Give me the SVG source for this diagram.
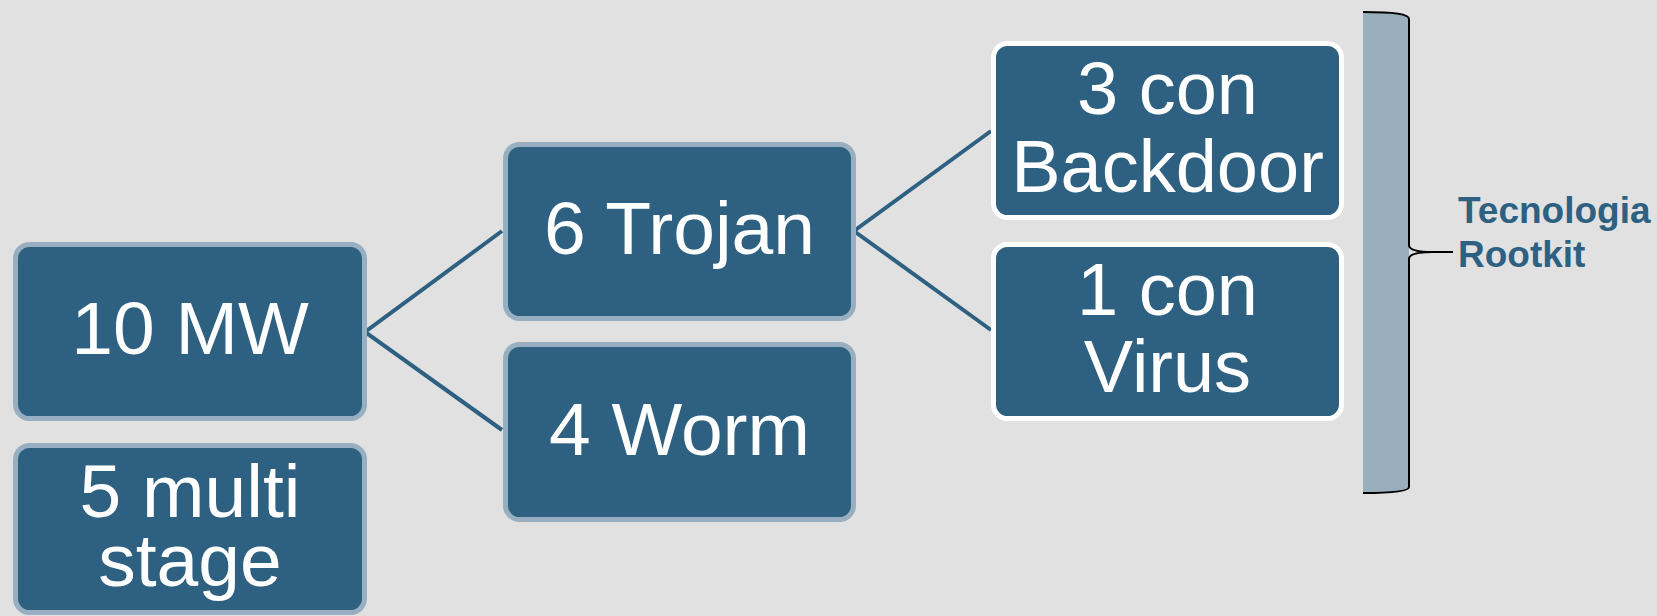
<svg xmlns="http://www.w3.org/2000/svg" width="1657" height="616" viewBox="0 0 1657 616">
  <style>
    .box { fill: #2E6181; stroke: #97AFC0; stroke-width: 5; }
    .box-w { fill: #2E6181; stroke: #FFFFFF; stroke-width: 5; }
    .lbl { font-family: "Liberation Sans", Arial, sans-serif; fill: #FFFFFF; text-anchor: middle; }
    .big { font-size: 75px; }
    .mid { font-size: 74px; }
    .link { stroke: #2E6181; stroke-width: 4; fill: none; }
    .note { font-family: "Liberation Sans", Arial, sans-serif; font-weight: bold; font-size: 37px; fill: #2E6181; }
  </style>
  <rect width="1657" height="616" fill="#E1E1E1"/>

  <g id="connectors">
    <polyline class="link" points="502,231 365,332 502,430"/>
    <polyline class="link" points="991,131 854,231 991,330"/>
  </g>

  <g id="node-10mw">
    <rect class="box" x="15.5" y="244.5" width="349" height="174" rx="14"/>
    <text class="lbl big" x="190" y="354">10 MW</text>
  </g>

  <g id="node-multistage">
    <rect class="box" x="15.5" y="445.5" width="349" height="167" rx="14"/>
    <text class="lbl big" x="190" y="517">5 multi</text>
    <text class="lbl big" x="190" y="586">stage</text>
  </g>

  <g id="node-trojan">
    <rect class="box" x="505.5" y="144.5" width="348" height="174" rx="14"/>
    <text class="lbl big" x="679.5" y="254">6 Trojan</text>
  </g>

  <g id="node-worm">
    <rect class="box" x="505.5" y="344.5" width="348" height="175" rx="14"/>
    <text class="lbl big" x="679.5" y="455">4 Worm</text>
  </g>

  <g id="node-backdoor">
    <rect class="box-w" x="993.5" y="43.5" width="348" height="174" rx="14"/>
    <text class="lbl mid" x="1167.5" y="114">3 con</text>
    <text class="lbl mid" x="1167.5" y="192">Backdoor</text>
  </g>

  <g id="node-virus">
    <rect class="box-w" x="993.5" y="244.5" width="348" height="174" rx="14"/>
    <text class="lbl mid" x="1167.5" y="315">1 con</text>
    <text class="lbl mid" x="1167.5" y="392">Virus</text>
  </g>

  <g id="rootkit-brace">
    <path d="M1363,12 C1395,12 1409,14 1409,19 L1409,487 C1409,491 1395,493 1363,493 Z" fill="#9AAFBD"/>
    <path d="M1363,12 C1395,12 1409,14 1409,19 L1409,245 C1409,250 1418,252 1433,252 L1453,252 M1433,252 C1418,252 1409,254 1409,259 L1409,487 C1409,491 1395,493 1363,493" fill="none" stroke="#000000" stroke-width="2"/>
    <text class="note" x="1458" y="223">Tecnologia</text>
    <text class="note" x="1458" y="267">Rootkit</text>
  </g>
</svg>
